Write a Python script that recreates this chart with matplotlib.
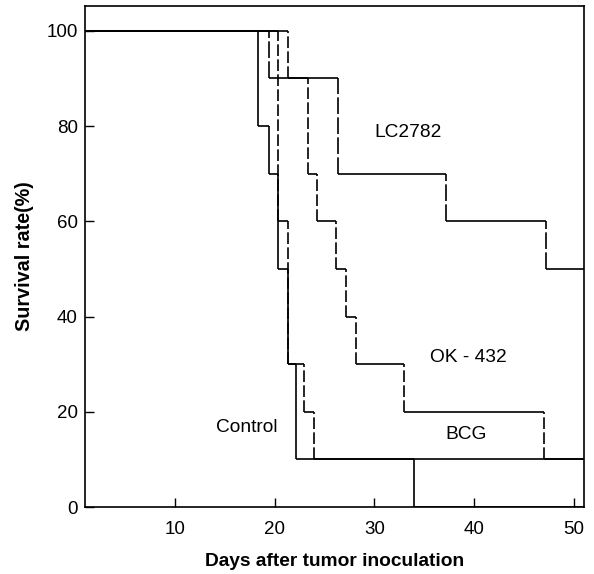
import matplotlib
matplotlib.use("Agg")
import matplotlib.pyplot as plt

plt.rcParams['font.family'] = ['Liberation Sans', 'DejaVu Sans']

# survival curves: day of each drop, and survival (%) from day 1 and after each drop
control_days = [18.3, 19.4, 20.3, 21.3, 22.1, 34.0]
control_surv = [100, 80, 70, 50, 30, 10, 0]

bcg_days = [20.3, 21.3, 23.0, 24.0]
bcg_surv = [100, 60, 30, 20, 10]

ok432_days = [21.3, 23.4, 24.3, 26.2, 27.2, 28.2, 33.0, 47.0]
ok432_surv = [100, 90, 70, 60, 50, 40, 30, 20, 10]

lc_days = [19.4, 26.4, 37.2, 47.2]
lc_surv = [100, 90, 70, 60, 50]

x_ticks = [10, 20, 30, 40, 50]
y_ticks = [0, 20, 40, 60, 80, 100]
day_min, day_max = 1, 51


def draw_curve(ax, days, surv, vstyle):
    edges = [day_min] + list(days) + [day_max]
    for i, s in enumerate(surv):
        ax.hlines(s, edges[i], edges[i + 1], colors='black', linewidth=1.2)
    for i, d in enumerate(days):
        ax.vlines(d, surv[i + 1], surv[i], colors='black', linewidth=1.2,
                  linestyles=vstyle)


fig = plt.figure(figsize=(5.94, 5.74), dpi=100)
ax = fig.add_axes([0.143, 0.1167, 0.840, 0.8728])

draw_curve(ax, control_days, control_surv, 'solid')
draw_curve(ax, bcg_days, bcg_surv, (0, (7, 2)))
draw_curve(ax, ok432_days, ok432_surv, (0, (7, 2)))
draw_curve(ax, lc_days, lc_surv, (0, (10, 2)))

ax.text(30.0, 78.6, 'LC2782', fontsize=13.8, va='center')
ax.text(35.6, 31.5, 'OK - 432', fontsize=13.8, va='center')
ax.text(37.1, 15.3, 'BCG', fontsize=13.8, va='center')
ax.text(14.1, 16.6, 'Control', fontsize=13.8, va='center')

ax.set_xlim(day_min, day_max)
ax.set_ylim(0, 105.2)
ax.set_xticks(x_ticks)
ax.set_yticks(y_ticks)
ax.tick_params(direction='in', length=6.5, width=1, labelsize=13.5)
ax.tick_params(axis='x', pad=10)
ax.tick_params(axis='y', pad=5)
for sp in ax.spines.values():
    sp.set_linewidth(1.2)

ax.set_xlabel('Days after tumor inoculation', fontsize=13.8, fontweight='bold',
              labelpad=11)
ax.set_ylabel('Survival rate(%)', fontsize=14.2, fontweight='bold', labelpad=9)

fig.savefig('out.png', dpi=100)
